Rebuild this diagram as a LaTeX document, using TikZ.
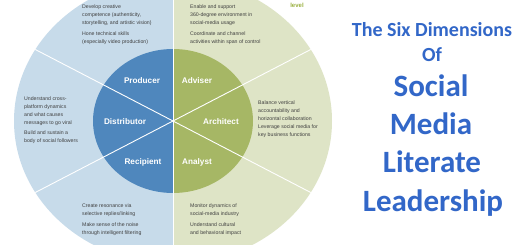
\documentclass[tikz,border=0pt]{standalone}
\usepackage{fontspec}
\setmainfont{Liberation Sans}
\newfontfamily\titlefont{Carlito}
\definecolor{lblue}{HTML}{C7DBEA}
\definecolor{dblue}{HTML}{4F87BD}
\definecolor{lgreen}{HTML}{DEE4C6}
\definecolor{dgreen}{HTML}{A6B765}
\definecolor{lvlgreen}{HTML}{9AB040}
\definecolor{titleblue}{HTML}{3267C8}
\definecolor{txtgray}{HTML}{404040}
\tikzset{
  desc/.style={anchor=north west, inner sep=0pt, align=left, text=txtgray,
    font=\fontsize{5.2}{8}\selectfont},
  role/.style={text=white, inner sep=0pt, font=\fontsize{8.2}{9}\selectfont\bfseries},
  ttl/.style={anchor=base, inner sep=0pt, text=titleblue, font=\titlefont\bfseries\fontsize{20}{24}\selectfont},
  ttlbig/.style={anchor=base, inner sep=0pt, text=titleblue, font=\titlefont\bfseries\fontsize{31}{36}\selectfont},
  divider/.style={draw=white, line width=0.9pt}
}
\begin{document}
\begin{tikzpicture}[x=1pt,y=1pt]
\useasboundingbox (0,0) rectangle (520,-245);
\fill[white] (0,0) rectangle (520,-245);
\coordinate (c) at (173,-121);
\begin{scope}
  \clip (0,0) rectangle (173,-245);
  \fill[lblue] (c) ellipse [x radius=159, y radius=143];
  \fill[dblue] (c) ellipse [x radius=80, y radius=72];
\end{scope}
\begin{scope}
  \clip (173,0) rectangle (520,-245);
  \fill[lgreen] (c) ellipse [x radius=159, y radius=143];
  \fill[dgreen] (c) ellipse [x radius=80, y radius=72];
\end{scope}
\coordinate (top) at (173,0);
\coordinate (bot) at (173,-245);
\coordinate (ne) at (310.7,-49.5);
\coordinate (nw) at (35.3,-49.5);
\coordinate (se) at (310.7,-192.5);
\coordinate (sw) at (35.3,-192.5);
\draw[divider] (top) -- (bot);
\draw[divider] (nw) -- (se);
\draw[divider] (sw) -- (ne);

\node[role] (producer) at (142,-81) {Producer};
\node[role] (distributor) at (125,-122) {Distributor};
\node[role] (recipient) at (143,-162) {Recipient};
\node[role] (adviser) at (197,-81) {Adviser};
\node[role] (architect) at (221,-122) {Architect};
\node[role] (analyst) at (197,-162) {Analyst};

\node[desc] (p1) at (82,-4.7) {Develop creative\\competence (authenticity,\\storytelling, and artistic vision)};
\node[desc] (p2) at (82,-31.7) {Hone technical skills\\(especially video production)};
\node[desc] (a1) at (190,-4.7) {Enable and support\\360-degree environment in\\social-media usage};
\node[desc] (a2) at (190,-31.7) {Coordinate and channel\\activities within span of control};
\node[desc] (d1) at (24,-96.7) {Understand cross-\\platform dynamics\\and what causes\\messages to go viral};
\node[desc] (d2) at (24,-130.7) {Build and sustain a\\body of social followers};
\node[desc] (r1) at (258,-100.7) {Balance vertical\\accountability and\\horizontal collaboration};
\node[desc] (r2) at (258,-124.7) {Leverage social media for\\key business functions};
\node[desc] (e1) at (82,-203.7) {Create resonance via\\selective replies/linking};
\node[desc] (e2) at (82,-222.7) {Make sense of the noise\\through intelligent filtering};
\node[desc] (n1) at (190,-203.7) {Monitor dynamics of\\social-media industry};
\node[desc] (n2) at (190,-222.7) {Understand cultural\\and behavioral impact};

\node[inner sep=0pt, text=lvlgreen, font=\fontsize{6}{7}\selectfont\bfseries] (level) at (297,-5) {level};

\node[ttl] (t1) at (432,-37) {The Six Dimensions};
\node[ttl] (t2) at (432,-62) {Of};
\node[ttlbig] (t3) at (431,-97) {Social};
\node[ttlbig] (t4) at (431,-135) {Media};
\node[ttlbig] (t5) at (432,-173) {Literate};
\node[ttlbig] (t6) at (433,-212) {Leadership};
\end{tikzpicture}
\end{document}
